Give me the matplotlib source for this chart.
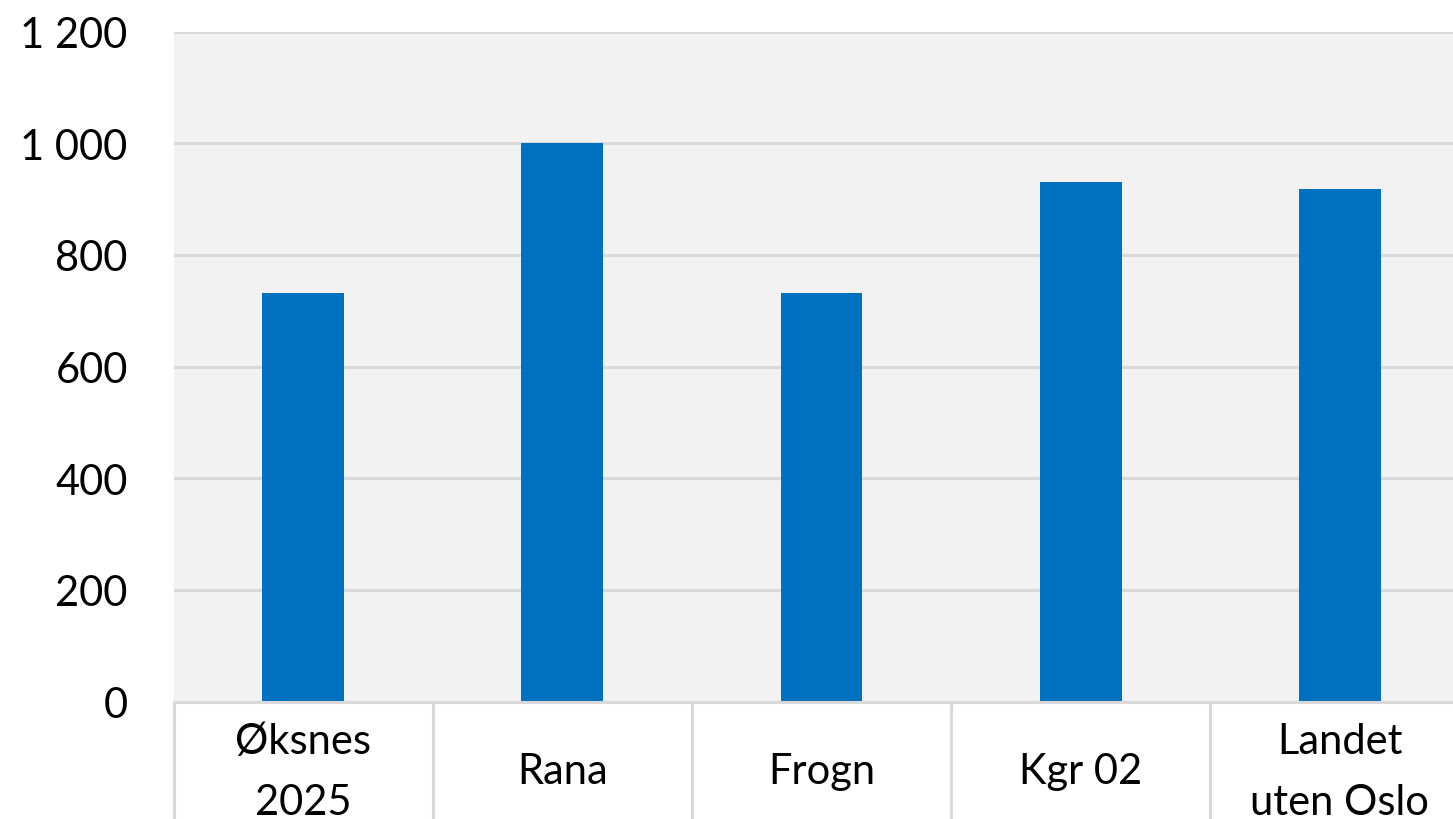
import matplotlib
matplotlib.use("Agg")
import matplotlib.pyplot as plt
from matplotlib.lines import Line2D

categories = ["Øksnes\n2025", "Rana", "Frogn", "Kgr 02", "Landet\nuten Oslo"]
values = [732, 1001, 732, 930, 918]
yticks = [0, 200, 400, 600, 800, 1000, 1200]
ytick_labels = ["0", "200", "400", "600", "800", "1 000", "1 200"]

plt.rcParams['font.family'] = ['Lato', 'DejaVu Sans']

W, H = 1453, 820
fig = plt.figure(figsize=(W / 100, H / 100), dpi=100)
left, right = 173.5, 1469.5
top, bottom = 32.7, 702.5
ax = fig.add_axes([left / W, (H - bottom) / H, (right - left) / W, (bottom - top) / H])
ax.set_facecolor("#F2F2F2")

x = list(range(len(categories)))
ax.bar(x, values, width=0.315, color="#0070C0", zorder=3)
ax.set_xlim(-0.5, len(categories) - 0.5)
ax.set_ylim(0, 1200)
ax.set_yticks(yticks)
ax.set_yticklabels(ytick_labels, fontsize=30, color="#000000")
ax.yaxis.grid(True, color="#D9D9D9", linewidth=2.2, zorder=1)
ax.tick_params(axis="y", length=0, pad=33)
ax.set_xticks([])
for s in ["top", "right", "left"]:
    ax.spines[s].set_visible(False)
ax.spines["bottom"].set_color("#D9D9D9")
ax.spines["bottom"].set_linewidth(2.2)
ax.spines["bottom"].set_zorder(4)

# category labels and separators under the axis
trans = ax.get_xaxis_transform()
for i, c in enumerate(categories):
    ax.text(i, -0.104, c, transform=trans, ha="center", va="center",
            fontsize=30, color="#000000", linespacing=1.75, clip_on=False)
for b in range(len(categories)):
    ax.add_line(Line2D([b - 0.5, b - 0.5], [0, -0.2], transform=trans,
                       color="#D9D9D9", linewidth=2.2, clip_on=False))

fig.savefig("out.png", dpi=100, facecolor="white")
